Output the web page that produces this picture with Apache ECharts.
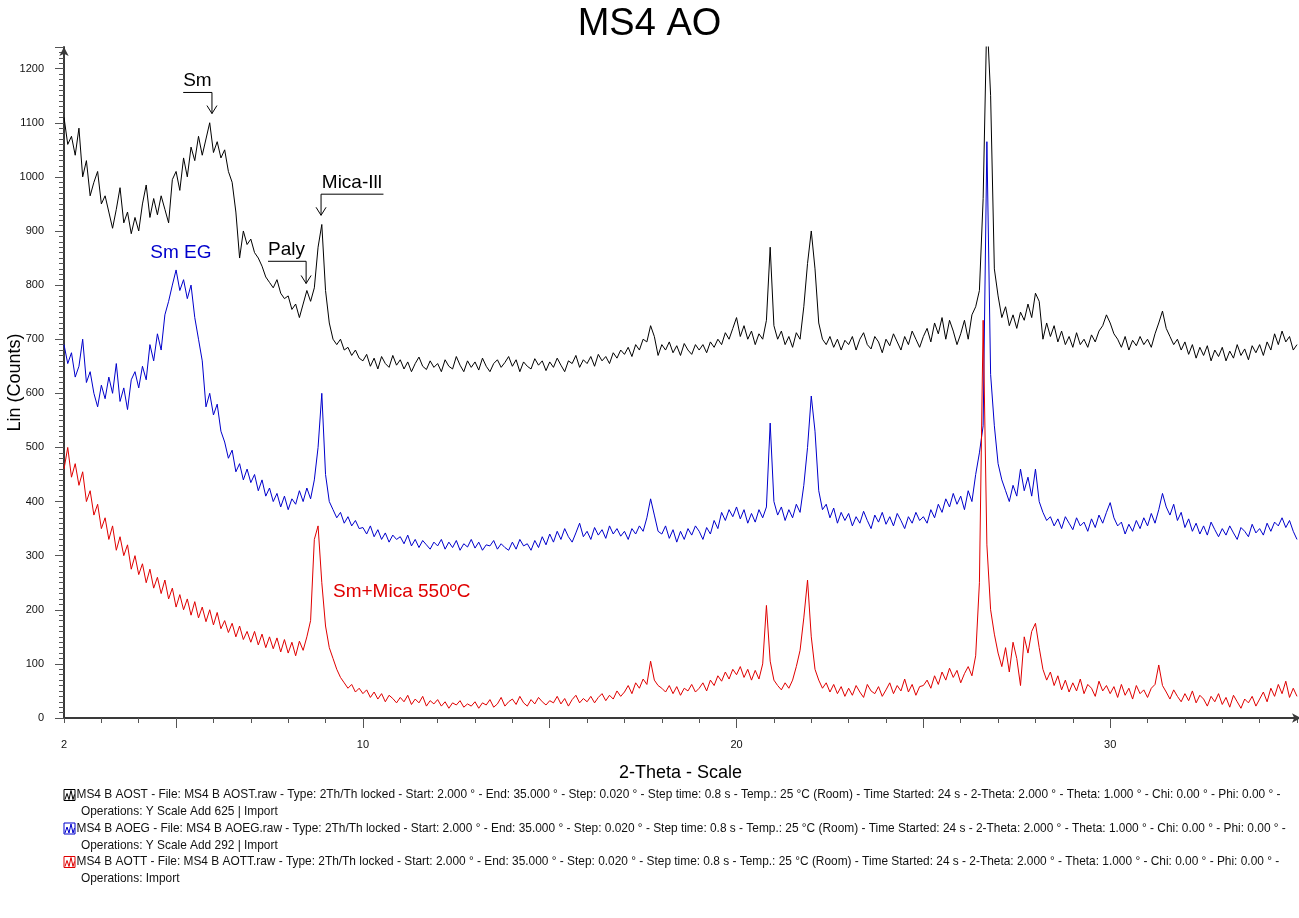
<!DOCTYPE html>
<html>
<head>
<meta charset="utf-8">
<title>MS4 AO</title>
<script src="https://cdn.jsdelivr.net/npm/echarts@6/dist/echarts.min.js"></script>
<style>
html,body{margin:0;padding:0;background:#ffffff;}
#chart{width:1299px;height:918px;}
</style>
</head>
<body>
<div id="chart"></div>
<script>
// ---------- data ----------
// 2-Theta sampling: 2.0 .. 35.0 in 0.1 degree steps
const twoThetaStart = 2.0;
const twoThetaStep = 0.1;

// MS4 B AOST (Y Scale Add 625), one row per degree
const aostCounts = [
 1110,1060,1075,1040,1090,1000,1030,965,990,1010,
 950,965,935,905,940,980,915,935,895,925,
 900,950,985,925,960,930,965,940,915,995,
 1010,975,1035,1000,1055,1030,1075,1040,1070,1100,
 1045,1065,1035,1050,1010,990,935,850,900,875,
 885,860,850,835,815,805,795,810,785,775,
 780,755,765,740,765,790,770,795,870,912,
 790,730,700,690,700,680,685,670,680,665,
 660,672,650,665,645,668,655,648,670,652,
 662,645,658,640,655,667,650,644,660,648,
 655,640,662,650,645,668,652,640,660,648,
 658,643,665,650,640,655,662,648,657,668,
 650,662,640,658,650,645,664,652,660,642,
 658,648,665,652,640,660,655,670,648,662,
 655,668,650,672,660,668,655,675,665,680,
 672,685,668,690,680,700,695,725,705,670,
 690,680,695,675,688,670,692,680,672,690,
 680,690,675,695,685,700,690,712,700,720,
 740,705,725,700,715,690,710,700,735,870,
 725,700,715,690,705,685,712,700,760,840,
 900,830,730,700,690,705,685,700,680,698,
 690,705,680,700,712,690,682,705,695,675,
 700,688,710,695,680,705,690,715,700,685,
 705,720,695,730,710,740,700,735,715,690,
 710,735,700,745,760,790,960,1300,1150,830,
 780,740,760,725,745,720,750,735,765,740,
 785,770,700,730,705,725,695,715,690,705,
 685,712,690,700,685,708,695,715,725,745,
 730,710,700,685,705,680,698,688,705,690,
 700,685,710,730,752,720,705,690,700,680,
 695,672,690,665,685,670,688,660,680,668,
 685,660,678,665,690,670,682,662,688,675,
 690,670,695,680,710,690,715,695,705,680,
 690
];

// MS4 B AOEG (Y Scale Add 292)
const aoegCounts = [
 690,655,675,630,650,700,620,640,600,575,
 615,590,630,600,655,585,610,570,625,640,
 610,650,625,690,660,710,680,745,770,800,
 828,790,810,775,800,740,700,660,575,600,
 560,580,530,510,480,495,455,470,440,460,
 435,450,420,440,410,425,400,415,390,410,
 385,405,395,420,400,425,405,440,500,600,
 450,400,385,370,380,360,372,355,365,350,
 352,340,355,335,348,330,342,325,338,330,
 335,322,338,318,330,315,328,320,312,325,
 318,330,312,325,315,328,310,322,316,330,
 314,325,310,320,318,328,312,322,315,310,
 325,312,330,318,322,310,328,315,335,320,
 340,325,345,330,350,335,325,342,360,335,
 345,330,352,338,348,332,355,340,350,336,
 345,330,350,340,355,345,370,405,375,345,
 340,355,332,348,325,345,330,350,338,355,
 345,330,352,340,365,350,380,365,385,372,
 390,368,385,360,378,362,385,370,390,545,
 400,375,390,365,385,370,395,380,430,500,
 595,530,420,385,395,370,388,360,380,365,
 378,355,372,360,382,365,350,375,362,380,
 358,372,355,378,365,350,372,360,380,365,
 372,360,385,370,395,380,405,390,415,395,
 410,385,420,400,450,490,540,1065,635,540,
 470,440,420,400,430,410,460,420,445,410,
 460,400,380,365,372,355,368,350,372,360,
 348,370,355,362,345,368,352,375,360,380,
 398,370,355,362,340,358,345,365,350,370,
 355,378,360,385,415,390,375,395,365,380,
 352,368,345,360,340,355,338,362,348,335,
 350,338,355,342,330,352,345,335,358,342,
 350,338,360,345,362,355,370,352,365,345,
 330
];

// MS4 B AOTT (no offset)
const aottCounts = [
 460,500,445,470,430,455,400,420,375,395,
 350,370,330,355,310,335,300,320,275,300,
 265,285,250,275,240,260,230,255,220,240,
 205,228,200,220,190,215,185,205,178,200,
 172,195,165,180,158,175,150,170,145,160,
 140,160,135,155,130,150,128,148,122,145,
 120,140,115,142,125,150,180,330,355,250,
 170,130,110,90,75,65,55,62,48,55,
 45,52,38,48,35,45,30,42,36,28,
 38,30,42,25,35,28,40,22,32,26,
 34,22,30,18,28,24,32,20,26,22,
 30,18,28,24,34,20,26,38,22,30,
 35,25,40,28,22,34,26,38,30,24,
 32,28,40,26,36,22,34,42,28,36,
 30,40,28,38,45,32,42,35,50,40,
 48,60,45,65,55,72,62,105,70,60,
 55,48,60,45,58,42,55,50,62,48,
 55,65,50,70,60,78,68,85,72,90,
 80,95,75,90,70,88,72,100,208,105,
 70,60,52,65,55,70,95,125,185,255,
 150,90,70,55,65,48,62,45,58,40,
 55,42,60,48,38,62,50,45,58,40,
 52,65,45,60,50,72,48,62,42,58,
 60,70,55,78,62,85,70,92,75,88,
 65,82,95,78,115,250,735,320,200,155,
 120,95,130,85,140,110,60,150,120,160,
 175,130,90,70,85,60,78,52,70,48,
 65,50,72,45,62,55,40,68,50,60,
 45,58,38,62,42,55,35,60,45,52,
 38,55,62,98,60,48,35,52,40,30,
 45,32,50,28,42,35,22,40,30,45,
 25,38,20,42,30,18,35,28,40,22,
 35,48,30,55,40,62,45,68,38,55,
 40
];

const seriesNames = ['MS4 B AOST', 'MS4 B AOEG', 'MS4 B AOTT'];
const seriesColors = ['#000000', '#0000cc', '#e00000'];
const seriesOperations = ['Operations: Y Scale Add 625 | Import', 'Operations: Y Scale Add 292 | Import', 'Operations: Import'];

// axis ticks / labels
const xLabelValues = [2, 10, 20, 30];
const xMajorTickValues = [5, 10, 15, 20, 25, 30];
const yLabelStep = 100;

// peak annotations (data coordinates)
const peakNotes = [
  { text: 'Sm', textX: 5.19, lineX0: 5.19, lineX1: 5.96, arrowX: 5.96, lineY: 1156, tipY: 1117 },
  { text: 'Paly', textX: 7.46, lineX0: 7.46, lineX1: 8.48, arrowX: 8.48, lineY: 844, tipY: 803 },
  { text: 'Mica-Ill', textX: 8.9, lineX0: 8.88, lineX1: 10.55, arrowX: 8.88, lineY: 968, tipY: 929 }
];
const curveNotes = [
  { text: 'Sm EG', x: 5.13, y: 859, align: 'center', color: '#0000cc' },
  { text: 'Sm+Mica 550ºC', x: 9.2, y: 233, align: 'left', color: '#e00000' }
];

// ---------- build ----------
function toPairs(values) {
  return values.map(function (v, i) {
    return [Number((twoThetaStart + i * twoThetaStep).toFixed(1)), v];
  });
}
const countArrays = [aostCounts, aoegCounts, aottCounts];

const FONT = '"Liberation Sans", Arial, Helvetica, sans-serif';
const chart = echarts.init(document.getElementById('chart'), null, { renderer: 'canvas' });

const option = {
  animation: false,
  backgroundColor: '#ffffff',
  textStyle: { fontFamily: FONT },
  title: {
    text: 'MS4 AO',
    left: 'center',
    top: 1,
    textStyle: { fontFamily: FONT, fontSize: 38, fontWeight: 'normal', color: '#000000' }
  },
  grid: { left: 64, right: 2, top: 47, bottom: 200, containLabel: false, outerBoundsMode: 'none' },
  xAxis: [
    {
      type: 'value',
      min: 2, max: 35, interval: 1,
      name: '2-Theta - Scale',
      nameLocation: 'middle',
      nameGap: 46,
      nameTextStyle: { fontFamily: FONT, fontSize: 18, color: '#000000' },
      axisLine: { show: true, onZero: false, lineStyle: { color: '#3a3a3a', width: 2 }, symbol: ['none', 'arrow'], symbolSize: [7, 9], symbolOffset: [0, 4] },
      axisTick: { show: true, inside: false, length: 5, lineStyle: { color: '#555555', width: 1 } },
      axisLabel: { customValues: xLabelValues, margin: 21, fontFamily: FONT, fontSize: 11, color: '#111111' },
      splitLine: { show: false }
    },
    {
      type: 'value',
      min: 2, max: 35,
      position: 'bottom',
      axisLine: { show: false },
      axisTick: { show: true, customValues: xMajorTickValues, length: 10, lineStyle: { color: '#555555', width: 1 } },
      axisLabel: { show: false },
      splitLine: { show: false }
    }
  ],
  yAxis: {
    type: 'value',
    min: 0, max: 1240, interval: yLabelStep,
    name: 'Lin (Counts)',
    nameLocation: 'middle',
    nameGap: 40,
    nameMoveOverlap: false,
    nameRotate: 90,
    nameTextStyle: { fontFamily: FONT, fontSize: 18, color: '#000000' },
    axisLine: { show: true, lineStyle: { color: '#3a3a3a', width: 2 }, symbol: ['none', 'arrow'], symbolSize: [7, 9] },
    axisTick: { show: true, length: 9, lineStyle: { color: '#555555', width: 1 } },
    minorTick: { show: true, splitNumber: 10, length: 5, lineStyle: { color: '#555555', width: 1 } },
    axisLabel: {
      margin: 20, fontFamily: FONT, fontSize: 11, color: '#111111',
      formatter: function (v) { return (v % yLabelStep === 0) ? String(v) : ''; }
    },
    splitLine: { show: false },
    minorSplitLine: { show: false }
  },
  legend: { show: false },
  series: seriesNames.map(function (name, k) {
    return {
      name: name,
      type: 'line',
      xAxisIndex: 0,
      data: toPairs(countArrays[k]),
      showSymbol: false,
      symbol: 'none',
      clip: true,
      lineStyle: { color: seriesColors[k], width: 1 },
      itemStyle: { color: seriesColors[k] },
      z: 2 + k
    };
  })
};
chart.setOption(option);

// ---------- annotations & legend (placed through the axes) ----------
function P(x, y) { return chart.convertToPixel({ xAxisIndex: 0, yAxisIndex: 0 }, [x, y]); }
const g = [];
peakNotes.forEach(function (n) {
  const a = P(n.lineX0, n.lineY), b = P(n.lineX1, n.lineY);
  const top = P(n.arrowX, n.lineY), tip = P(n.arrowX, n.tipY);
  const t = P(n.textX, n.lineY);
  g.push({ type: 'line', shape: { x1: a[0], y1: a[1], x2: b[0], y2: b[1] }, style: { stroke: '#000', lineWidth: 1 }, z: 20 });
  g.push({ type: 'line', shape: { x1: top[0], y1: top[1], x2: tip[0], y2: tip[1] }, style: { stroke: '#000', lineWidth: 1 }, z: 20 });
  g.push({ type: 'polyline', shape: { points: [[tip[0] - 5, tip[1] - 8], [tip[0], tip[1]], [tip[0] + 5, tip[1] - 8]] }, style: { stroke: '#000', lineWidth: 1, fill: null }, z: 20 });
  g.push({ type: 'text', x: t[0], y: t[1] - 2, style: { text: n.text, font: '19px ' + FONT, fill: '#000', align: 'left', verticalAlign: 'bottom' }, z: 20 });
});
curveNotes.forEach(function (n) {
  const p = P(n.x, n.y);
  g.push({ type: 'text', x: p[0], y: p[1], style: { text: n.text, font: '19px ' + FONT, fill: n.color, align: n.align, verticalAlign: 'middle' }, z: 20 });
});

// legend block (Diffrac-style)
const legendLeft = 64, legendTop = 795, entryGap = 33.5, lineGap = 17;
seriesNames.forEach(function (name, k) {
  const cy = legendTop + k * entryGap;
  const c = seriesColors[k];
  const x0 = legendLeft, y0 = cy - 5.5;
  g.push({ type: 'rect', shape: { x: x0, y: y0, width: 11, height: 11 }, style: { stroke: c, fill: '#fff', lineWidth: 1 }, z: 20 });
  g.push({ type: 'polyline', shape: { points: [[x0 + 1, y0 + 10], [x0 + 3, y0 + 4], [x0 + 5, y0 + 10], [x0 + 7, y0 + 1], [x0 + 9, y0 + 10], [x0 + 10.5, y0 + 5]] }, style: { stroke: c, lineWidth: 1, fill: null }, z: 20 });
  const line1 = name + ' - File: ' + name + '.raw - Type: 2Th/Th locked - Start: 2.000 ° - End: 35.000 ° - Step: 0.020 ° - Step time: 0.8 s - Temp.: 25 °C (Room) - Time Started: 24 s - 2-Theta: 2.000 ° - Theta: 1.000 ° - Chi: 0.00 ° - Phi: 0.00 ° -';
  g.push({ type: 'text', x: x0 + 12.5, y: cy, style: { text: line1, font: '11.9px ' + FONT, fill: '#111', align: 'left', verticalAlign: 'middle' }, z: 20 });
  g.push({ type: 'text', x: x0 + 17, y: cy + lineGap, style: { text: seriesOperations[k], font: '11.9px ' + FONT, fill: '#111', align: 'left', verticalAlign: 'middle' }, z: 20 });
});
chart.setOption({ graphic: g });
</script>
</body>
</html>
